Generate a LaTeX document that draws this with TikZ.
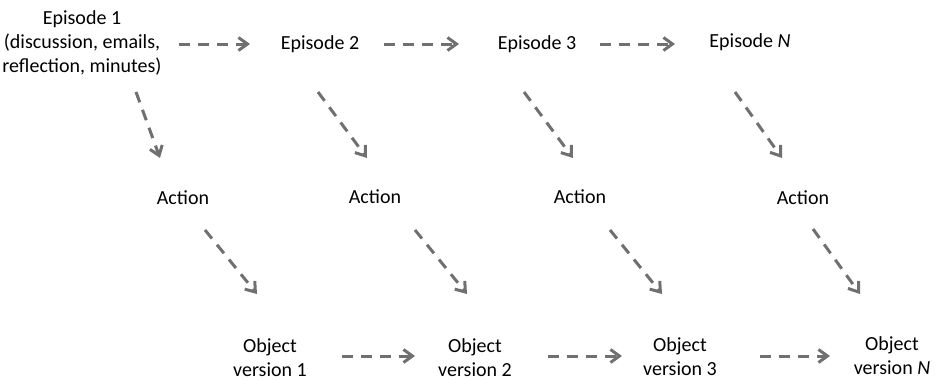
\documentclass[tikz,border=0pt]{standalone}
\usepackage{fontspec}
\setmainfont{Carlito}
\usetikzlibrary{arrows.meta}
\definecolor{arrgray}{HTML}{707070}
\begin{document}
\begin{tikzpicture}[x=1pt,y=-1pt,
  lbl/.style={align=center,inner sep=0pt,font=\fontsize{20}{24}\selectfont},
  flow/.style={draw=arrgray,line width=3pt,dash pattern=on 11pt off 8pt,
    -{Straight Barb[length=9pt,width=13pt,line width=3pt]}}]
\useasboundingbox (0,0) rectangle (937,380);
% nodes
\node[lbl] (e1) at (82,43) {Episode 1\\(discussion, emails,\\reflection, minutes)};
\node[lbl] (e2) at (320,44) {Episode 2};
\node[lbl] (e3) at (537,44) {Episode 3};
\node[lbl] (eN) at (750,42) {Episode \textit{N}};
\node[lbl] (a1) at (183,198) {Action};
\node[lbl] (a2) at (375,197) {Action};
\node[lbl] (a3) at (580,197) {Action};
\node[lbl] (a4) at (803,198) {Action};
\node[lbl] (o1) at (270,358) {Object\\version 1};
\node[lbl] (o2) at (475,358) {Object\\version 2};
\node[lbl] (o3) at (680,357) {Object\\version 3};
\node[lbl] (oN) at (892,356) {Object\\version \textit{N}};
% connector end points
\coordinate (e1s) at (179,44); \coordinate (e2t) at (250,44);
\coordinate (e2s) at (384,44); \coordinate (e3t) at (459,44);
\coordinate (e3s) at (600,44); \coordinate (eNt) at (675,44);
\coordinate (o1s) at (342,356); \coordinate (o2t) at (415,356);
\coordinate (o2s) at (548,356); \coordinate (o3t) at (622,356);
\coordinate (o3s) at (760,356); \coordinate (oNt) at (830,356);
\coordinate (d1s) at (136,92); \coordinate (d1t) at (160,158);
\coordinate (d2s) at (318,92); \coordinate (d2t) at (367,158);
\coordinate (d3s) at (524,92); \coordinate (d3t) at (573,158);
\coordinate (d4s) at (735,92); \coordinate (d4t) at (782,158);
\coordinate (f1s) at (205,230); \coordinate (f1t) at (257,294);
\coordinate (f2s) at (415,230); \coordinate (f2t) at (467,294);
\coordinate (f3s) at (610,230); \coordinate (f3t) at (662,294);
\coordinate (f4s) at (813,229); \coordinate (f4t) at (860,294);
% connectors
\draw[flow] (e1s) -- (e2t);
\draw[flow] (e2s) -- (e3t);
\draw[flow] (e3s) -- (eNt);
\draw[flow] (o1s) -- (o2t);
\draw[flow] (o2s) -- (o3t);
\draw[flow] (o3s) -- (oNt);
\draw[flow] (d1s) -- (d1t);
\draw[flow] (d2s) -- (d2t);
\draw[flow] (d3s) -- (d3t);
\draw[flow] (d4s) -- (d4t);
\draw[flow] (f1s) -- (f1t);
\draw[flow] (f2s) -- (f2t);
\draw[flow] (f3s) -- (f3t);
\draw[flow] (f4s) -- (f4t);
\end{tikzpicture}
\end{document}
